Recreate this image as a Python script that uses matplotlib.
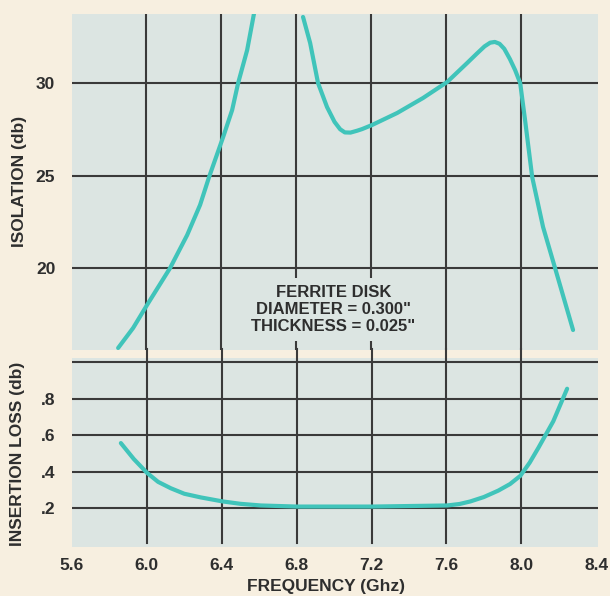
import matplotlib
matplotlib.use("Agg")
import matplotlib.pyplot as plt

# isolation curve (two branches)
iso_left_f = [5.851, 5.931, 6.005, 6.128, 6.219, 6.288, 6.336, 6.411, 6.459, 6.491, 6.539, 6.576]
iso_left_db = [15.68, 16.76, 18.0, 20.0, 21.78, 23.41, 24.92, 27.08, 28.54, 30.0, 31.78, 33.78]
iso_right_f = [6.837, 6.875, 6.917, 6.965, 7.005, 7.035, 7.060, 7.090, 7.125, 7.152, 7.205,
               7.339, 7.477, 7.605, 7.712, 7.765, 7.805, 7.835, 7.860, 7.885, 7.910, 7.940,
               7.968, 7.995, 8.021, 8.059, 8.117, 8.181, 8.277]
iso_right_db = [33.57, 32.16, 30.0, 28.70, 27.90, 27.50, 27.33, 27.32, 27.42, 27.51, 27.73,
                28.38, 29.19, 30.05, 31.08, 31.60, 31.98, 32.18, 32.22, 32.12, 31.85, 31.30,
                30.70, 30.0, 28.0, 24.92, 22.22, 20.0, 16.65]

# insertion loss curve
loss_f = [5.861, 5.93, 6.0, 6.06, 6.128, 6.20, 6.288, 6.405, 6.50, 6.608, 6.8, 7.205, 7.605,
          7.67, 7.728, 7.80, 7.877, 7.94, 7.995, 8.045, 8.091, 8.171, 8.245]
loss_db = [0.557, 0.47, 0.395, 0.345, 0.31, 0.28, 0.26, 0.238, 0.225, 0.216, 0.21, 0.21, 0.216,
           0.224, 0.238, 0.262, 0.297, 0.333, 0.378, 0.45, 0.53, 0.676, 0.854]

freq_ticks = [5.6, 6.0, 6.4, 6.8, 7.2, 7.6, 8.0, 8.4]
freq_grid = [6.0, 6.4, 6.8, 7.2, 7.6, 8.0]
iso_ticks = [20, 25, 30]
loss_ticks = [0.2, 0.4, 0.6, 0.8]
loss_grid = [0.2, 0.4, 0.6, 0.8, 1.0]

FIG_BG = "#f7efe0"
PANEL = "#dce5e2"
GRID = "#3a3a3a"
CURVE = "#40c4ba"
TEXT = "#2e2e2e"
FONT = ["Liberation Sans", "DejaVu Sans"]

plt.rcParams['font.family'] = FONT
plt.rcParams['font.weight'] = 'bold'

fig = plt.figure(figsize=(6.10, 5.96), dpi=100, facecolor=FIG_BG)
W, H = 610.0, 596.0

def px_axes(left, top, right, bottom):
    return fig.add_axes([left / W, 1 - bottom / H, (right - left) / W, (bottom - top) / H])

ax1 = px_axes(72, 14, 598, 350)
ax2 = px_axes(72, 358, 598, 547)

for ax in (ax1, ax2):
    ax.set_facecolor(PANEL)
    for s in ax.spines.values():
        s.set_visible(False)
    ax.set_xlim(5.605, 8.41)
    ax.tick_params(length=0, labelsize=12.5, colors=TEXT)

# upper panel: isolation
ax1.set_ylim(15.57, 33.73)
for y in iso_ticks:
    ax1.axhline(y, color=GRID, lw=1.5, zorder=1)
for x in freq_grid:
    ax1.axvline(x, color=GRID, lw=1.5, zorder=1)
ax1.plot(iso_left_f, iso_left_db, color=CURVE, lw=3, solid_capstyle='round',
         solid_joinstyle='round', zorder=3)
ax1.plot(iso_right_f, iso_right_db, color=CURVE, lw=3, solid_capstyle='round',
         solid_joinstyle='round', zorder=3)
ax1.set_xticks([])
ax1.set_yticks(iso_ticks)
ax1.set_yticklabels([str(v) for v in iso_ticks])
ax1.tick_params(axis='y', pad=12)

ax1.text(7.0, 17.75, 'FERRITE DISK\nDIAMETER = 0.300"\nTHICKNESS = 0.025"',
         ha='center', va='center', fontsize=12, color=TEXT, linespacing=1.15,
         zorder=4, bbox=dict(boxstyle='square,pad=0.45', fc=PANEL, ec='none'))

# lower panel: insertion loss
ax2.set_ylim(-0.011, 1.022)
for y in loss_grid:
    ax2.axhline(y, color=GRID, lw=1.5, zorder=1)
for x in freq_grid:
    ax2.axvline(x, ymin=0.02, ymax=1.045, color=GRID, lw=1.5, zorder=1, clip_on=False)
ax2.plot(loss_f, loss_db, color=CURVE, lw=3, solid_capstyle='round',
         solid_joinstyle='round', zorder=3)
ax2.set_yticks(loss_ticks)
ax2.set_yticklabels(['.' + f"{v:.1f}".split('.')[1] for v in loss_ticks])
ax2.tick_params(axis='y', pad=12)
ax2.set_xticks(freq_ticks)
ax2.set_xticklabels([f"{v:.1f}" for v in freq_ticks])
ax2.tick_params(axis='x', pad=8)

fig.text(20 / W, 1 - 181 / H, 'ISOLATION (db)', rotation=90, ha='center', va='center',
         fontsize=12.5, color=TEXT)
fig.text(18 / W, 1 - 454 / H, 'INSERTION LOSS (db)', rotation=90, ha='center', va='center',
         fontsize=12.5, color=TEXT)
fig.text(326 / W, 1 - 587 / H, 'FREQUENCY (Ghz)', ha='center', va='center',
         fontsize=12.5, color=TEXT)

fig.savefig('out.png', dpi=100, facecolor=FIG_BG)
